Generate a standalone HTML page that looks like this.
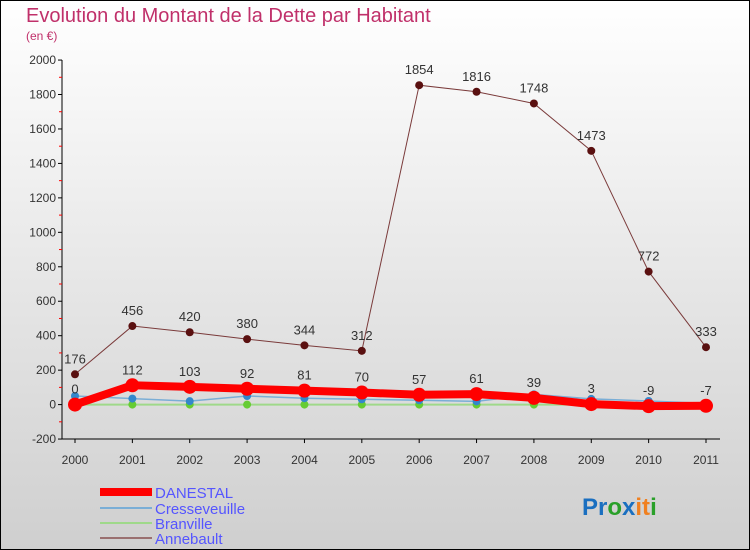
<!DOCTYPE html>
<html><head><meta charset="utf-8"><style>
body{margin:0}
#c{position:relative;width:750px;height:550px;overflow:hidden;font-family:"Liberation Sans",sans-serif}
</style></head><body>
<div id="c">
<svg id="s" width="750" height="550" xmlns="http://www.w3.org/2000/svg">
<defs><linearGradient id="bg" x1="0" y1="0" x2="0" y2="1"><stop offset="0" stop-color="#ffffff"/><stop offset="1" stop-color="#cfcfcf"/></linearGradient></defs>
<rect x="0.5" y="0.5" width="749" height="549" fill="url(#bg)" stroke="#000"/>
<text x="26" y="22" font-size="20" fill="#c0306a">Evolution du Montant de la Dette par Habitant</text>
<text x="26" y="40" font-size="12" fill="#c0306a">(en €)</text>
<g id="axes"></g><g id="marks"></g>
<g>
<rect x="100" y="488" width="52" height="8" fill="#f00"/>
<text x="155" y="498" font-size="15" fill="#5555ff">DANESTAL</text>
<line x1="100" y1="508" x2="152" y2="508" stroke="#7aaed6" stroke-width="2"/>
<text x="155" y="514" font-size="15" fill="#5555ff">Cresseveuille</text>
<line x1="100" y1="523" x2="152" y2="523" stroke="#9fd98a" stroke-width="2"/>
<text x="155" y="529" font-size="15" fill="#5555ff">Branville</text>
<line x1="100" y1="538" x2="152" y2="538" stroke="#9a7070" stroke-width="2"/>
<text x="155" y="544" font-size="15" fill="#5555ff">Annebault</text>
</g>
<text x="582" y="515" font-size="24" font-weight="bold"><tspan fill="#1a6fc0">Pr</tspan><tspan fill="#2aa02a">o</tspan><tspan fill="#1a6fc0">x</tspan><tspan fill="#f08020">it</tspan><tspan fill="#2aa02a">i</tspan></text>
</svg>
</div>
<script>
const years=[2000,2001,2002,2003,2004,2005,2006,2007,2008,2009,2010,2011];
const yTicks=[-200,0,200,400,600,800,1000,1200,1400,1600,1800,2000];
const danestal=[0,112,103,92,81,70,57,61,39,3,-9,-7];
const cresseveuille=[50,35,20,50,37,31,25,19,59,33,21,7];
const branville=[0,0,0,0,0,0,0,0,0,0,0,0];
const annebault=[176,456,420,380,344,312,1854,1816,1748,1473,772,333];
const NS="http://www.w3.org/2000/svg";
function X(i){return 75+i*(706-75)/(years.length-1);}
function Y(v){return 404.6-v*(379/2200);}
function mk(tag,attrs,parent){const e=document.createElementNS(NS,tag);for(const k in attrs)e.setAttribute(k,attrs[k]);parent.appendChild(e);return e;}
const ax=document.getElementById('axes'),mg=document.getElementById('marks');
const yl=mk('line',{x1:62,y1:Y(2000),x2:62,y2:Y(-200),stroke:'#000'},ax);


const xl=mk('line',{x1:62,y1:Y(-200),x2:720,y2:Y(-200),stroke:'#000'},ax);


yTicks.forEach((v,k)=>{
 mk('line',{x1:58,y1:Y(v),x2:62,y2:Y(v),stroke:'#000'},ax);
 if(k<yTicks.length-1) mk('line',{x1:59,y1:Y(v+100),x2:62,y2:Y(v+100),stroke:'#f00'},ax);
 const t=mk('text',{x:56,y:Y(v)+4,'font-size':12,'text-anchor':'end',fill:'#333'},ax);t.textContent=v;
 
 
});
years.forEach((yr,i)=>{
 mk('line',{x1:X(i),y1:Y(-200),x2:X(i),y2:Y(-200)+4,stroke:'#000'},ax);
 const t=mk('text',{x:X(i),y:Y(-200)+25,'font-size':12,'text-anchor':'middle',fill:'#333'},ax);t.textContent=yr;
 
 
});
function series(name,vals,color,w,r,dot,labels){
 const pts=vals.map((v,i)=>X(i)+','+Y(v)).join(' ');
 const pl=mk('polyline',{points:pts,fill:'none',stroke:color,'stroke-width':w},mg);
 
 
 vals.forEach((v,i)=>{
  const c=mk('circle',{cx:X(i),cy:Y(v),r:r,fill:dot},mg);
  
  
  if(labels){const t=mk('text',{x:X(i),y:Y(v)-11,'font-size':13,'text-anchor':'middle',fill:'#333'},mg);t.textContent=v;
   
   }
 });
}
series('branville',branville,'#9fd98a',2,4,'#66cc33',false);
series('cresseveuille',cresseveuille,'#7aaed6',1.5,4,'#3388cc',false);
series('annebault',annebault,'#7a3a3a',1,4,'#5a1010',true);
series('danestal',danestal,'#f00',8,7,'#f00',true);
</script>
</body></html>
